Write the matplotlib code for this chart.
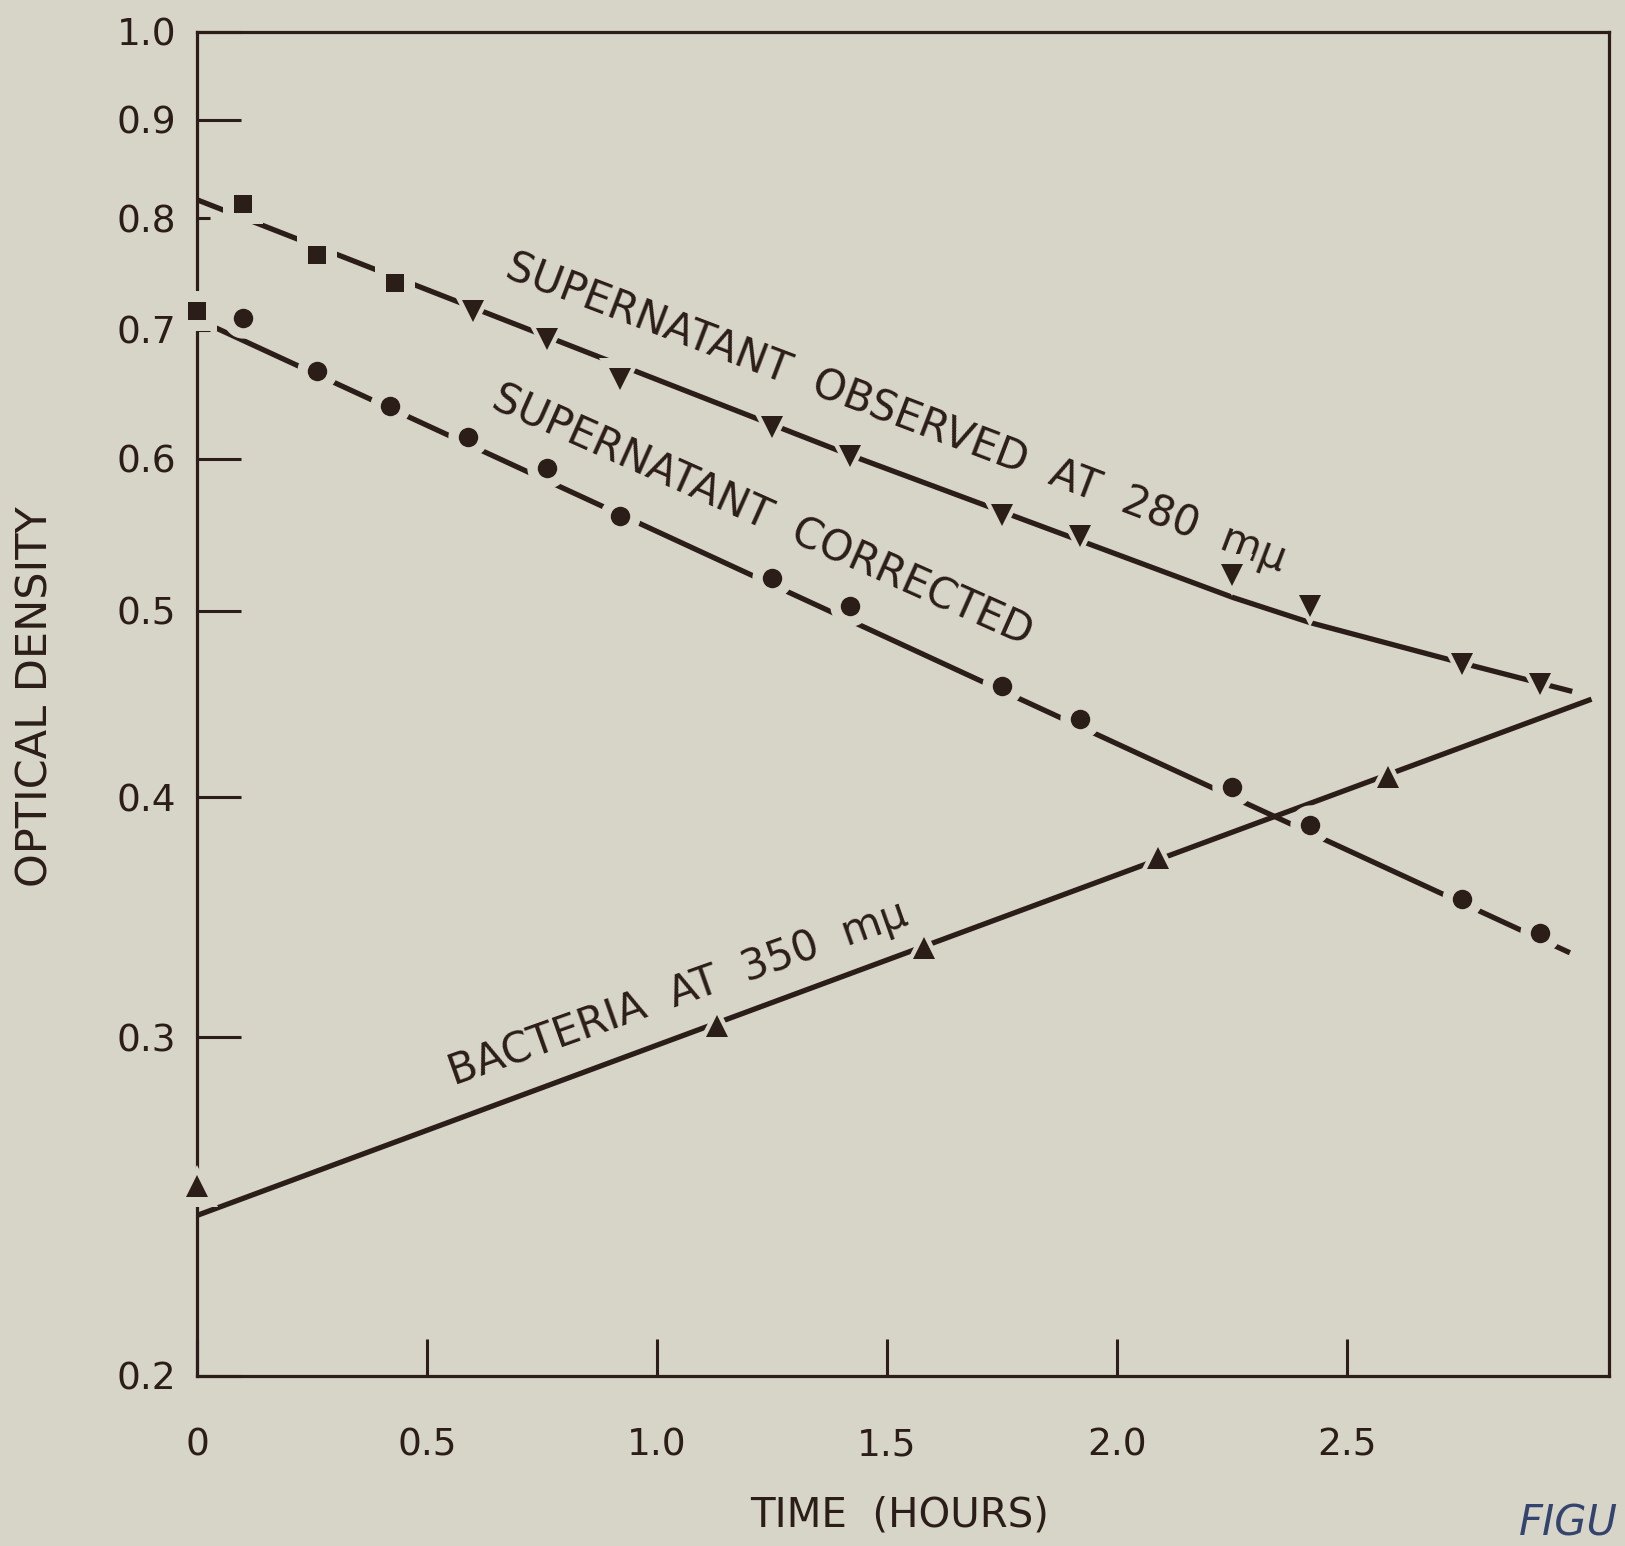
import matplotlib
matplotlib.use("Agg")
import matplotlib.pyplot as plt
from matplotlib.ticker import FixedLocator, FixedFormatter

plt.rcParams["font.family"] = ["DejaVu Sans"]

BG = "#d7d4c8"
INK = "#2b1d18"

# observed supernatant at 280 mu (squares first, then triangles)
obs_sq_t = [0.0, 0.10, 0.26, 0.43]
obs_sq_od = [0.716, 0.814, 0.766, 0.740]
obs_tri_t = [0.60, 0.76, 0.92, 1.25, 1.42, 1.75, 1.92, 2.25, 2.42, 2.75, 2.92]
obs_tri_od = [0.716, 0.692, 0.660, 0.623, 0.602, 0.561, 0.547, 0.522, 0.503, 0.469, 0.458]
obs_fit_t = [0.0, 1.424, 2.253, 2.42, 2.746, 2.99]
obs_fit_od = [0.818, 0.602, 0.508, 0.493, 0.470, 0.454]

# supernatant corrected
cor_t = [0.10, 0.26, 0.42, 0.59, 0.76, 0.92, 1.25, 1.42, 1.75, 1.92, 2.25, 2.42, 2.75, 2.92]
cor_od = [0.710, 0.666, 0.639, 0.616, 0.593, 0.560, 0.520, 0.503, 0.457, 0.439, 0.405, 0.387, 0.354, 0.340]
cor_fit_t = [0.0, 2.985]
cor_fit_od = [0.709, 0.332]

# bacteria at 350 mu
bac_t = [0.0, 1.13, 1.58, 2.09, 2.59]
bac_od = [0.251, 0.304, 0.334, 0.372, 0.410]
bac_fit_t = [0.0, 3.032]
bac_fit_od = [0.2424, 0.4498]

x_ticks = [0, 0.5, 1.0, 1.5, 2.0, 2.5]
x_labels = ["0", "0.5", "1.0", "1.5", "2.0", "2.5"]
y_major = [0.2, 0.3, 0.4, 0.5, 0.6, 0.9, 1.0]
y_major_labels = ["0.2", "0.3", "0.4", "0.5", "0.6", "0.9", "1.0"]
y_minor = [0.7, 0.8]
y_minor_labels = ["0.7", "0.8"]

fig = plt.figure(figsize=(16.25, 15.46), dpi=100, facecolor=BG)
ax = fig.add_axes([197 / 1625, 1 - 1376 / 1546, 1412 / 1625, 1344 / 1546])
ax.set_facecolor(BG)
ax.set_yscale("log")
ax.set_xlim(0, 3.07)
ax.set_ylim(0.2, 1.0)

for s in ax.spines.values():
    s.set_linewidth(2.3)
    s.set_color(INK)

lw = 3.8
ax.plot(obs_fit_t, obs_fit_od, color=INK, lw=lw, solid_capstyle="butt", zorder=3)
ax.plot(cor_fit_t, cor_fit_od, color=INK, lw=lw, solid_capstyle="butt", zorder=3)
ax.plot(bac_fit_t, bac_fit_od, color=INK, lw=lw, solid_capstyle="butt", zorder=3)

GAP = 15


def points(t, od, marker, ms):
    # background halo breaks the line around each point
    ax.plot(t, od, ls="none", marker=marker, ms=ms + GAP, color=BG, mew=0,
            zorder=4, clip_on=False)
    ax.plot(t, od, ls="none", marker=marker, ms=ms, color=INK, mew=0,
            zorder=5, clip_on=False)


points(obs_sq_t, obs_sq_od, "s", 13.5)
points(obs_tri_t, obs_tri_od, "v", 15.5)
points(cor_t, cor_od, "o", 14)
points(bac_t, bac_od, "^", 15.5)

ax.xaxis.set_major_locator(FixedLocator(x_ticks))
ax.xaxis.set_major_formatter(FixedFormatter(x_labels))
ax.xaxis.set_minor_locator(FixedLocator([]))
ax.yaxis.set_major_locator(FixedLocator(y_major))
ax.yaxis.set_major_formatter(FixedFormatter(y_major_labels))
ax.yaxis.set_minor_locator(FixedLocator(y_minor))
ax.yaxis.set_minor_formatter(FixedFormatter(y_minor_labels))

ax.tick_params(axis="x", which="major", direction="in", length=27, width=2.2,
               color=INK, labelcolor=INK, labelsize=27, pad=37)
ax.tick_params(axis="y", which="major", direction="in", length=32, width=2.2,
               color=INK, labelcolor=INK, labelsize=27, pad=15)
ax.tick_params(axis="y", which="minor", direction="in", length=9, width=2.2,
               color=INK, labelcolor=INK, labelsize=27, pad=15)

fig.text(36 / 1625, 1 - 697 / 1546, "OPTICAL DENSITY", rotation=90,
         ha="center", va="center", fontsize=31, color=INK)
fig.text(900 / 1625, 1 - 1515 / 1546, "TIME  (HOURS)",
         ha="center", va="center", fontsize=29, color=INK)

txt = dict(ha="left", va="baseline", rotation_mode="anchor", fontsize=30, color=INK)
ax.text(0.665, 0.746, "SUPERNATANT  OBSERVED  AT  280  mμ", rotation=-20.8, **txt)
ax.text(0.635, 0.638, "SUPERNATANT  CORRECTED", rotation=-24, **txt)
ax.text(0.559, 0.2833, "BACTERIA  AT  350  mμ", rotation=19.5, **txt)

fig.text(1618 / 1625, 2 / 1546, "FIGU", ha="right", va="bottom",
         fontsize=30, color="#33446e", style="italic")

fig.savefig("out.png", dpi=100, facecolor=BG)
